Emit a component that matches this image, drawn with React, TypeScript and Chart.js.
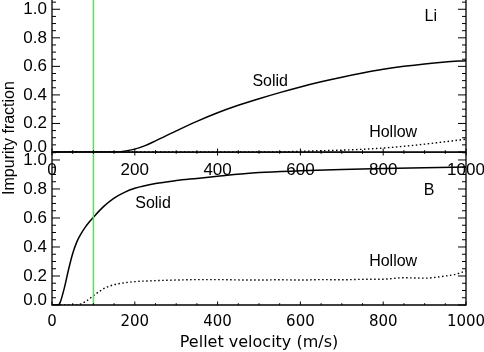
import { useEffect, useRef } from 'react';
import { Chart, registerables } from 'chart.js';

Chart.register(...registerables);

// ---------- data ----------
const liVelocity = [0, 100, 150, 175, 200, 225, 250, 300, 350, 400, 450, 500, 550, 600, 650, 700, 750, 800, 850, 900, 950, 1000];
const liSolid = [0, 0, 0, 0.006, 0.02, 0.045, 0.078, 0.148, 0.215, 0.275, 0.327, 0.373, 0.416, 0.456, 0.492, 0.524, 0.553, 0.579, 0.6, 0.617, 0.63, 0.64];
const liHollow = [0, 0, 0, 0, 0, 0, 0, 0, 0, 0, 0, 0, 0.001, 0.005, 0.009, 0.013, 0.019, 0.028, 0.04, 0.055, 0.072, 0.09];

const bSolidVelocity = [0, 15, 20, 30, 40, 50, 60, 70, 80, 90, 100, 125, 150, 175, 200, 250, 300, 350, 400, 500, 600, 700, 800, 900, 1000];
const bSolid = [0, 0, 0.02, 0.12, 0.245, 0.355, 0.435, 0.49, 0.535, 0.572, 0.605, 0.68, 0.737, 0.777, 0.805, 0.838, 0.858, 0.873, 0.888, 0.913, 0.925, 0.934, 0.941, 0.947, 0.952];

const bHollowVelocity = [0, 60, 70, 80, 90, 100, 115, 130, 150, 175, 200, 250, 300, 350, 400, 450, 500, 550, 600, 650, 700, 750, 800, 850, 900, 950, 975, 1000];
const bHollow = [0, 0, 0.008, 0.022, 0.042, 0.064, 0.095, 0.12, 0.14, 0.153, 0.161, 0.168, 0.172, 0.175, 0.175, 0.173, 0.172, 0.174, 0.172, 0.175, 0.174, 0.177, 0.178, 0.188, 0.185, 0.2, 0.212, 0.235];

const markerVelocity = 100;

const xMajorTicks = [0, 200, 400, 600, 800, 1000];
const xMinorTicks = [50, 100, 150, 250, 300, 350, 450, 500, 550, 650, 700, 750, 850, 900, 950];
const yMajorTicks = [0, 0.2, 0.4, 0.6, 0.8, 1.0];
const yMinorTicks = [0.05, 0.1, 0.15, 0.25, 0.3, 0.35, 0.45, 0.5, 0.55, 0.65, 0.7, 0.75, 0.85, 0.9, 0.95, 1.05];

const topLabels = [
  { text: 'Li', x: 915, y: 0.95 },
  { text: 'Solid', x: 527, y: 0.49 },
  { text: 'Hollow', x: 824, y: 0.135 },
];
const bottomLabels = [
  { text: 'B', x: 911, y: 0.79 },
  { text: 'Solid', x: 244, y: 0.7 },
  { text: 'Hollow', x: 824, y: 0.3 },
];

const yTitle = 'Impurity fraction';
const xTitle = 'Pellet velocity (m/s)';

// ---------- helpers ----------
const pts = (xs: number[], ys: number[]) => xs.map((x, i) => ({ x, y: ys[i] }));

function decorPlugin(cfg: { labels: { text: string; x: number; y: number }[]; topBorder: boolean; yTitle?: boolean }) {
  return {
    id: 'decor',
    afterDatasetsDraw(chart: any) {
      const { ctx, chartArea: a, scales } = chart;
      const xs = scales.x;
      const ys = scales.y;
      ctx.save();
      // green marker line
      const gx = xs.getPixelForValue(markerVelocity);
      ctx.strokeStyle = '#44ee44';
      ctx.lineWidth = 1.5;
      ctx.beginPath();
      ctx.moveTo(gx, a.top);
      ctx.lineTo(gx, a.bottom);
      ctx.stroke();

      // frame
      ctx.strokeStyle = '#000';
      ctx.lineWidth = 1.3;
      ctx.beginPath();
      ctx.moveTo(a.left, a.top);
      ctx.lineTo(a.left, a.bottom);
      ctx.lineTo(a.right, a.bottom);
      ctx.lineTo(a.right, a.top);
      if (cfg.topBorder) ctx.lineTo(a.left, a.top);
      ctx.stroke();

      // ticks
      ctx.lineWidth = 1;
      ctx.beginPath();
      const xt = (vals: number[], len: number) => {
        for (const v of vals) {
          const p = xs.getPixelForValue(v);
          ctx.moveTo(p, a.bottom);
          ctx.lineTo(p, a.bottom - len);
          if (cfg.topBorder) {
            ctx.moveTo(p, a.top);
            ctx.lineTo(p, a.top + len);
          }
        }
      };
      const yt = (vals: number[], len: number) => {
        for (const v of vals) {
          const p = ys.getPixelForValue(v);
          if (p < a.top - 0.5) continue;
          ctx.moveTo(a.left, p);
          ctx.lineTo(a.left + len, p);
          ctx.moveTo(a.right, p);
          ctx.lineTo(a.right - len, p);
        }
      };
      xt(xMajorTicks, 3.5);
      xt(xMinorTicks, 1.8);
      yt(yMajorTicks, 8);
      yt(yMinorTicks, 4);
      ctx.stroke();

      // annotations
      ctx.fillStyle = '#000';
      ctx.font = '16px "Liberation Sans", Arial, sans-serif';
      ctx.textAlign = 'center';
      ctx.textBaseline = 'middle';
      for (const l of cfg.labels) {
        ctx.fillText(l.text, xs.getPixelForValue(l.x), ys.getPixelForValue(l.y));
      }

      if (cfg.yTitle) {
        ctx.save();
        ctx.translate(10, a.bottom - 14);
        ctx.rotate(-Math.PI / 2);
        ctx.fillText(yTitle, 0, 0);
        ctx.restore();
      }
      ctx.restore();
    },
  };
}

function makeConfig(opts: {
  datasets: any[];
  yMax: number;
  xFont: any;
  xPad: number;
  xHeight: number;
  showXTitle: boolean;
  labels: { text: string; x: number; y: number }[];
  topBorder: boolean;
  yTitle: boolean;
}): any {
  const yFont = { family: '"Liberation Sans", Arial, sans-serif', size: 17 };
  return {
    type: 'line',
    data: { datasets: opts.datasets },
    plugins: [decorPlugin({ labels: opts.labels, topBorder: opts.topBorder, yTitle: opts.yTitle })],
    options: {
      animation: false,
      responsive: false,
      devicePixelRatio: 1,
      events: [],
      layout: { padding: { left: 0, right: 18, top: 0, bottom: 0 } },
      plugins: { legend: { display: false }, tooltip: { enabled: false } },
      elements: { point: { radius: 0 } },
      scales: {
        x: {
          type: 'linear',
          min: 0,
          max: 1000,
          grid: { display: false, drawTicks: false },
          border: { display: false },
          ticks: {
            stepSize: 200,
            autoSkip: false,
            maxRotation: 0,
            color: '#000',
            font: opts.xFont,
            padding: opts.xPad,
            callback: (v: number) => String(v),
          },
          title: {
            display: opts.showXTitle,
            text: xTitle,
            color: '#000',
            font: { family: '"DejaVu Sans", sans-serif', size: 16 },
            padding: 0,
          },
          afterFit: (s: any) => {
            s.height = opts.xHeight;
            s.paddingLeft = 0;
            s.paddingRight = 0;
          },
        },
        y: {
          type: 'linear',
          min: 0,
          max: opts.yMax,
          grid: { display: false, drawTicks: false },
          border: { display: false },
          ticks: {
            stepSize: 0.2,
            includeBounds: false,
            autoSkip: false,
            color: '#000',
            padding: 5,
            font: (c: any) =>
              c.tick && c.tick.value === 0 ? { ...yFont, lineHeight: '10px' } : yFont,
            callback: (v: number) => (v === 0 ? ['0.0', ''] : v.toFixed(1)),
          },
          afterFit: (s: any) => {
            s.width = 52;
            s.paddingTop = 0;
            s.paddingBottom = 0;
          },
        },
      },
    },
  };
}

const solidStyle = {
  borderColor: '#000',
  borderWidth: 1.5,
  pointRadius: 0,
  fill: false,
  cubicInterpolationMode: 'monotone',
};
const hollowStyle = {
  ...solidStyle,
  borderWidth: 1.4,
  borderDash: [1.5, 2.5],
};

export default function App() {
  const topRef = useRef<HTMLCanvasElement>(null);
  const botRef = useRef<HTMLCanvasElement>(null);

  useEffect(() => {
    const top = new Chart(
      topRef.current!,
      makeConfig({
        datasets: [
          { label: 'Li Solid', data: pts(liVelocity, liSolid), ...solidStyle },
          { label: 'Li Hollow', data: pts(liVelocity, liHollow), ...hollowStyle },
        ],
        yMax: 1.065,
        xFont: { family: '"Liberation Sans", Arial, sans-serif', size: 17 },
        xPad: 8,
        xHeight: 48,
        showXTitle: false,
        labels: topLabels,
        topBorder: false,
        yTitle: true,
      })
    );
    const bot = new Chart(
      botRef.current!,
      makeConfig({
        datasets: [
          { label: 'B Solid', data: pts(bSolidVelocity, bSolid), ...solidStyle },
          { label: 'B Hollow', data: pts(bHollowVelocity, bHollow), ...hollowStyle },
        ],
        yMax: 1.055,
        xFont: { family: '"DejaVu Sans", sans-serif', size: 15 },
        xPad: 8,
        xHeight: 47,
        showXTitle: true,
        labels: bottomLabels,
        topBorder: true,
        yTitle: false,
      })
    );
    return () => {
      top.destroy();
      bot.destroy();
    };
  }, []);

  return (
    <div style={{ position: 'fixed', left: 0, top: 0, width: 484, height: 352, background: '#fff', overflow: 'hidden' }}>
      <canvas ref={botRef} width={484} height={200} style={{ position: 'absolute', left: 0, top: 152 }} />
      <canvas ref={topRef} width={484} height={200} style={{ position: 'absolute', left: 0, top: 0 }} />
    </div>
  );
}
